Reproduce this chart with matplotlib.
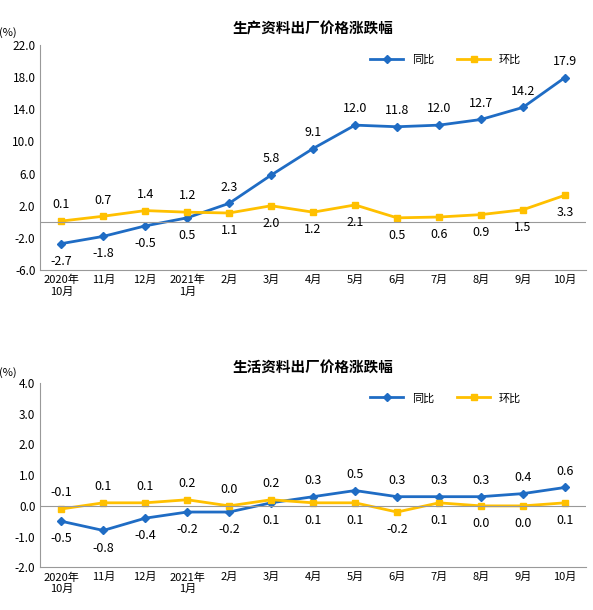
import matplotlib
matplotlib.use("Agg")
import matplotlib.pyplot as plt

plt.rcParams['font.family'] = ['Noto Sans CJK SC', 'DejaVu Sans']

cats = ["2020年\n10月","11月","12月","2021年\n1月","2月","3月","4月","5月","6月","7月","8月","9月","10月"]
top_yoy = [-2.7,-1.8,-0.5,0.5,2.3,5.8,9.1,12.0,11.8,12.0,12.7,14.2,17.9]
top_mom = [0.1,0.7,1.4,1.2,1.1,2.0,1.2,2.1,0.5,0.6,0.9,1.5,3.3]
bot_yoy = [-0.5,-0.8,-0.4,-0.2,-0.2,0.1,0.3,0.5,0.3,0.3,0.3,0.4,0.6]
bot_mom = [-0.1,0.1,0.1,0.2,0.0,0.2,0.1,0.1,-0.2,0.1,0.0,0.0,0.1]
top_yoy_above = [False,False,False,False,True]+[True]*8
bot_yoy_above = [False]*6+[True]*7

BLUE = '#1f6cc4'
YEL = '#ffc000'

fig = plt.figure(figsize=(5.93,6.10), dpi=100)

def draw(ax, yoy, mom, above, ylim, yticks, title, off):
    x = range(len(cats))
    ax.plot(x, yoy, color=BLUE, marker='D', ms=4, lw=2, label='同比')
    ax.plot(x, mom, color=YEL, marker='s', ms=4.5, lw=2, label='环比')
    ax.set_xlim(-0.5, len(cats)-0.5)
    ax.set_ylim(*ylim)
    ax.set_yticks(yticks)
    ax.set_yticklabels([f"{v:.1f}" for v in yticks], fontsize=8.5, family='Times New Roman' if False else None)
    ax.set_xticks(list(x))
    ax.set_xticklabels(cats, fontsize=8)
    ax.axhline(0, color='#999999', lw=0.8)
    for s in ['top','right']:
        ax.spines[s].set_visible(False)
    ax.spines['left'].set_color('#999999')
    ax.spines['bottom'].set_color('#999999')
    ax.tick_params(length=0)
    for i in x:
        a = above[i]
        ax.annotate(f"{yoy[i]:.1f}", (i, yoy[i]), xytext=(0, 7 if a else -8), textcoords='offset points',
                    ha='center', va='bottom' if a else 'top', fontsize=9)
        ax.annotate(f"{mom[i]:.1f}", (i, mom[i]), xytext=(0, -8 if a else 7), textcoords='offset points',
                    ha='center', va='top' if a else 'bottom', fontsize=9)
    ax.set_title(title, fontsize=10.5, fontweight='bold', pad=8)
    ax.text(-0.06, 1.04, '(%)', transform=ax.transAxes, fontsize=8, ha='center')
    ax.legend(loc='upper right', bbox_to_anchor=(0.9, 1.0), ncol=2, frameon=False, fontsize=8, handlelength=3)

ax1 = fig.add_axes([0.068, 0.557, 0.92, 0.37])
draw(ax1, top_yoy, top_mom, top_yoy_above, (-6, 22), [22,18,14,10,6,2,-2,-6], '生产资料出厂价格涨跌幅', 0)
ax2 = fig.add_axes([0.068, 0.07, 0.92, 0.302])
draw(ax2, bot_yoy, bot_mom, bot_yoy_above, (-2, 4), [4,3,2,1,0,-1,-2], '生活资料出厂价格涨跌幅', 0)

fig.savefig('out.png', dpi=100)
